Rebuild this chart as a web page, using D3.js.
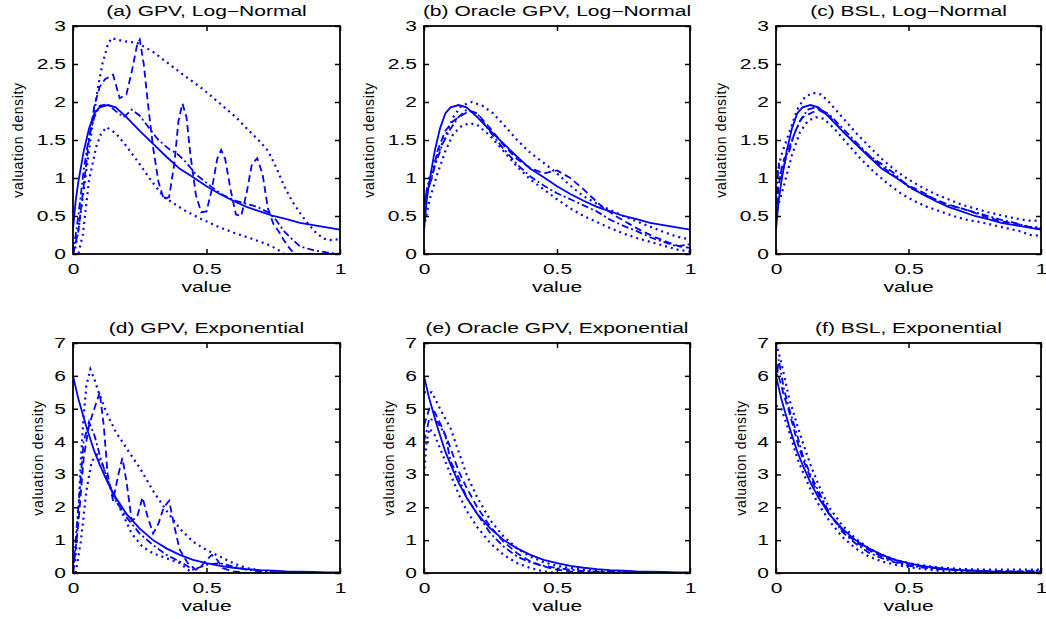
<!DOCTYPE html>
<html>
<head>
<meta charset="utf-8">
<script src="https://cdn.jsdelivr.net/npm/d3@7"></script>
<style>
body { margin: 0; background: #fff; }
text { font-family: "Liberation Sans", Arial, sans-serif; fill: #000; }
</style>
</head>
<body>
<svg width="1046" height="619"></svg>
<script>
// tick labels and titles
const xTicks = [0, 0.5, 1];
const yTicksLogn = [0, 0.5, 1, 1.5, 2, 2.5, 3];
const yTicksExp = [0, 1, 2, 3, 4, 5, 6, 7];
const titles = ["(a) GPV, Log\u2212Normal", "(b) Oracle GPV, Log\u2212Normal", "(c) BSL, Log\u2212Normal",
    "(d) GPV, Exponential", "(e) Oracle GPV, Exponential", "(f) BSL, Exponential"];

// true densities
const trueLogn = [[0,0.32],[0.01,0.7],[0.02,0.95],[0.04,1.35],[0.06,1.65],[0.08,1.85],[0.1,1.93],[0.13,1.96],[0.16,1.93],[0.2,1.8],[0.25,1.62],[0.3,1.45],[0.35,1.28],[0.4,1.12],[0.45,1.01],[0.5,0.89],[0.55,0.79],[0.6,0.7],[0.65,0.62],[0.7,0.56],[0.75,0.5],[0.8,0.46],[0.85,0.41],[0.9,0.38],[0.95,0.35],[1,0.32]];
const trueExp = [[0,6.0],[0.02,5.3],[0.05,4.45],[0.08,3.7],[0.1,3.3],[0.13,2.75],[0.16,2.3],[0.2,1.8],[0.25,1.35],[0.3,1.0],[0.35,0.75],[0.4,0.55],[0.45,0.4],[0.5,0.3],[0.55,0.22],[0.6,0.16],[0.65,0.12],[0.7,0.09],[0.75,0.07],[0.8,0.05],[0.85,0.04],[0.9,0.03],[0.95,0.02],[1,0.015]];

// (a) GPV, Log-Normal
const aDashed = [[0,0],[0.02,0.3],[0.04,0.9],[0.06,1.5],[0.08,1.95],[0.1,2.2],[0.12,2.3],[0.15,2.36],[0.175,2.05],[0.2,2.1],[0.22,2.4],[0.24,2.75],[0.25,2.82],[0.265,2.5],[0.28,2.0],[0.3,1.4],[0.32,0.95],[0.34,0.72],[0.36,0.75],[0.38,1.2],[0.395,1.75],[0.41,1.98],[0.425,1.8],[0.44,1.3],[0.46,0.78],[0.48,0.55],[0.5,0.56],[0.52,0.85],[0.54,1.25],[0.555,1.37],[0.57,1.25],[0.59,0.85],[0.61,0.52],[0.63,0.5],[0.65,0.8],[0.67,1.18],[0.69,1.26],[0.71,1.05],[0.73,0.6],[0.75,0.4],[0.77,0.3],[0.79,0.18],[0.81,0.08],[0.83,0],[1,0]];
const aDashDot = [[0,0],[0.02,0.5],[0.04,1.1],[0.06,1.55],[0.08,1.8],[0.1,1.95],[0.13,1.97],[0.16,1.88],[0.19,1.8],[0.22,1.9],[0.25,1.82],[0.28,1.68],[0.32,1.5],[0.36,1.38],[0.39,1.32],[0.42,1.22],[0.46,1.05],[0.52,0.88],[0.56,0.78],[0.61,0.7],[0.65,0.66],[0.69,0.62],[0.73,0.55],[0.76,0.45],[0.79,0.3],[0.81,0.23],[0.85,0.1],[0.9,0.05],[0.95,0.02],[1,0]];
const aUpper = [[0,0],[0.01,0.1],[0.025,0.44],[0.05,1.1],[0.075,1.76],[0.094,2.2],[0.11,2.5],[0.13,2.75],[0.144,2.84],[0.19,2.8],[0.24,2.78],[0.3,2.66],[0.36,2.5],[0.42,2.34],[0.49,2.16],[0.55,1.98],[0.61,1.8],[0.66,1.62],[0.7,1.48],[0.73,1.36],[0.76,1.15],[0.79,0.9],[0.82,0.7],[0.85,0.54],[0.88,0.4],[0.91,0.28],[0.94,0.2],[0.97,0.18],[1,0.2]];
const aLower = [[0,0],[0.02,0],[0.037,0.26],[0.06,0.97],[0.087,1.41],[0.105,1.58],[0.125,1.67],[0.16,1.59],[0.2,1.42],[0.24,1.23],[0.29,0.98],[0.34,0.75],[0.42,0.57],[0.48,0.46],[0.55,0.35],[0.61,0.27],[0.67,0.2],[0.71,0.15],[0.74,0.11],[0.77,0.05],[0.79,0],[1,0]];

// (b) Oracle GPV, Log-Normal
const bDashed = [[0,0.5],[0.01,0.85],[0.03,1.0],[0.05,1.35],[0.08,1.62],[0.11,1.75],[0.14,1.82],[0.17,1.88],[0.2,1.85],[0.25,1.65],[0.3,1.43],[0.35,1.25],[0.4,1.13],[0.45,1.06],[0.5,1.1],[0.55,1.0],[0.6,0.85],[0.63,0.75],[0.67,0.62],[0.72,0.5],[0.77,0.4],[0.82,0.3],[0.87,0.22],[0.92,0.15],[0.96,0.1],[1,0.08]];
const bDashDot = [[0,0.7],[0.02,0.9],[0.04,1.15],[0.07,1.45],[0.1,1.65],[0.13,1.8],[0.16,1.9],[0.2,1.85],[0.25,1.6],[0.3,1.38],[0.35,1.18],[0.4,1.02],[0.45,0.9],[0.5,0.8],[0.55,0.72],[0.6,0.64],[0.65,0.56],[0.7,0.45],[0.75,0.37],[0.8,0.3],[0.85,0.22],[0.9,0.16],[0.95,0.1],[1,0.13]];
const bUpper = [[0,0.6],[0.02,1.0],[0.05,1.3],[0.08,1.55],[0.11,1.8],[0.14,1.95],[0.18,2.0],[0.22,1.95],[0.26,1.85],[0.3,1.7],[0.35,1.5],[0.4,1.33],[0.45,1.2],[0.5,1.06],[0.55,0.9],[0.6,0.76],[0.65,0.66],[0.7,0.58],[0.75,0.5],[0.8,0.43],[0.85,0.36],[0.9,0.29],[0.95,0.23],[1,0.19]];
const bLower = [[0,0.35],[0.02,0.7],[0.05,1.05],[0.08,1.35],[0.11,1.58],[0.14,1.68],[0.17,1.72],[0.2,1.7],[0.25,1.55],[0.3,1.35],[0.35,1.15],[0.4,0.98],[0.45,0.85],[0.5,0.72],[0.55,0.6],[0.6,0.5],[0.65,0.42],[0.7,0.34],[0.75,0.27],[0.8,0.21],[0.85,0.16],[0.9,0.11],[0.95,0.06],[1,0.03]];

// (c) BSL, Log-Normal
const cDashed = [[0,0.5],[0.01,0.9],[0.02,1.1],[0.03,1.25],[0.05,1.35],[0.07,1.6],[0.1,1.8],[0.13,1.85],[0.16,1.9],[0.2,1.82],[0.25,1.62],[0.3,1.45],[0.35,1.3],[0.4,1.15],[0.45,1.02],[0.5,0.9],[0.55,0.82],[0.6,0.72],[0.65,0.65],[0.7,0.6],[0.75,0.54],[0.8,0.48],[0.85,0.43],[0.9,0.4],[0.93,0.38],[0.96,0.35],[1,0.33]];
const cDashDot = [[0,0.6],[0.01,1.2],[0.02,1.0],[0.04,1.3],[0.06,1.5],[0.09,1.75],[0.12,1.9],[0.15,1.93],[0.2,1.84],[0.25,1.66],[0.3,1.48],[0.35,1.3],[0.4,1.18],[0.45,1.05],[0.5,0.88],[0.55,0.8],[0.6,0.72],[0.65,0.64],[0.7,0.6],[0.75,0.55],[0.8,0.5],[0.85,0.45],[0.9,0.41],[0.95,0.36],[1,0.35]];
const cUpper = [[0,1.0],[0.02,1.3],[0.05,1.6],[0.08,1.9],[0.11,2.07],[0.14,2.12],[0.17,2.1],[0.2,2.0],[0.25,1.8],[0.3,1.6],[0.35,1.42],[0.4,1.25],[0.45,1.1],[0.5,0.98],[0.55,0.88],[0.6,0.79],[0.65,0.72],[0.7,0.65],[0.75,0.6],[0.8,0.55],[0.85,0.51],[0.9,0.47],[0.95,0.44],[1,0.44]];
const cLower = [[0.005,0.6],[0.03,0.9],[0.06,1.3],[0.09,1.6],[0.12,1.75],[0.15,1.8],[0.18,1.78],[0.22,1.65],[0.27,1.45],[0.32,1.25],[0.37,1.08],[0.42,0.93],[0.47,0.8],[0.52,0.7],[0.57,0.62],[0.62,0.56],[0.67,0.5],[0.72,0.45],[0.77,0.42],[0.82,0.38],[0.87,0.34],[0.92,0.3],[0.96,0.25],[1,0.24]];

// (d) GPV, Exponential
const dDashed = [[0,0],[0.02,1.5],[0.04,3.5],[0.06,4.5],[0.08,5.0],[0.1,5.5],[0.115,4.5],[0.13,3.0],[0.15,2.2],[0.17,3.0],[0.185,3.5],[0.2,2.8],[0.22,1.6],[0.24,1.7],[0.26,2.3],[0.28,1.7],[0.3,1.2],[0.32,1.5],[0.34,2.0],[0.36,2.2],[0.38,1.4],[0.4,0.7],[0.43,0.3],[0.46,0.1],[0.48,0.2],[0.5,0.4],[0.52,0.55],[0.54,0.4],[0.56,0.15],[0.6,0.05],[0.65,0],[0.9,0]];
const dDashDot = [[0,0],[0.02,2.0],[0.04,4.0],[0.06,4.6],[0.08,4.2],[0.1,3.6],[0.13,2.8],[0.16,2.2],[0.2,1.7],[0.25,1.2],[0.3,0.85],[0.35,0.55],[0.4,0.35],[0.45,0.1],[0.5,0.25],[0.55,0.3],[0.6,0.2],[0.65,0.1],[0.7,0.05],[0.8,0],[0.9,0]];
const dUpper = [[0,0],[0.01,0.5],[0.02,1.8],[0.03,3.5],[0.04,4.8],[0.05,5.7],[0.065,6.2],[0.08,5.9],[0.1,5.4],[0.13,4.8],[0.16,4.3],[0.2,3.8],[0.25,3.2],[0.3,2.5],[0.35,1.9],[0.4,1.35],[0.45,0.95],[0.5,0.7],[0.55,0.5],[0.6,0.3],[0.65,0.15],[0.7,0.07],[0.75,0.02],[0.8,0],[0.9,0]];
const dLower = [[0.01,0],[0.03,1.0],[0.05,2.5],[0.07,3.4],[0.09,3.6],[0.11,3.3],[0.14,2.6],[0.18,1.9],[0.22,1.2],[0.26,0.8],[0.3,0.6],[0.35,0.45],[0.4,0.3],[0.43,0.1],[0.45,0],[0.9,0]];

// (e) Oracle GPV, Exponential
const eDashed = [[0,4.5],[0.02,5.0],[0.04,4.9],[0.07,4.4],[0.1,3.8],[0.13,3.1],[0.16,2.6],[0.2,2.0],[0.25,1.4],[0.3,0.95],[0.35,0.6],[0.4,0.35],[0.45,0.2],[0.5,0.1],[0.55,0.05],[0.6,0.02],[0.9,0]];
const eDashDot = [[0,4.0],[0.02,4.7],[0.05,4.6],[0.08,4.2],[0.1,3.4],[0.13,2.9],[0.16,2.3],[0.2,1.8],[0.25,1.2],[0.3,0.8],[0.35,0.5],[0.4,0.32],[0.45,0.22],[0.5,0.15],[0.55,0.1],[0.6,0.06],[0.7,0.03],[0.9,0]];
const eUpper = [[0,5.5],[0.03,5.5],[0.06,5.0],[0.1,4.4],[0.13,3.7],[0.16,3.0],[0.2,2.3],[0.25,1.6],[0.3,1.1],[0.35,0.75],[0.4,0.5],[0.45,0.33],[0.5,0.22],[0.55,0.15],[0.6,0.1],[0.7,0.05],[0.8,0.02],[0.9,0]];
const eLower = [[0,3.0],[0.01,4.0],[0.02,4.4],[0.04,4.2],[0.07,3.6],[0.1,3.0],[0.13,2.4],[0.16,1.9],[0.2,1.4],[0.25,0.9],[0.3,0.55],[0.35,0.3],[0.4,0.15],[0.45,0.05],[0.5,0],[0.9,0]];

// (f) BSL, Exponential
const fDashed = [[0,6.3],[0.01,6.0],[0.03,5.4],[0.05,4.9],[0.08,4.0],[0.1,3.5],[0.13,2.9],[0.16,2.4],[0.2,1.8],[0.25,1.3],[0.3,0.95],[0.35,0.7],[0.4,0.5],[0.45,0.35],[0.5,0.25],[0.6,0.15],[0.7,0.08],[0.8,0.06],[0.9,0.05],[1,0.05]];
const fDashDot = [[0,5.7],[0.01,6.5],[0.03,5.6],[0.05,5.0],[0.08,4.2],[0.1,3.6],[0.13,3.0],[0.16,2.5],[0.2,1.85],[0.25,1.25],[0.3,0.9],[0.35,0.62],[0.4,0.45],[0.45,0.32],[0.5,0.22],[0.6,0.12],[0.7,0.08],[0.8,0.05],[0.9,0.04],[1,0.08]];
const fUpper = [[0,7.0],[0.02,6.4],[0.05,5.3],[0.08,4.5],[0.1,4.0],[0.13,3.3],[0.16,2.7],[0.2,2.0],[0.25,1.45],[0.3,1.05],[0.35,0.75],[0.4,0.55],[0.45,0.4],[0.5,0.3],[0.6,0.18],[0.7,0.12],[0.8,0.1],[0.9,0.1],[1,0.1]];
const fLower = [[0,5.1],[0.02,5.0],[0.05,4.3],[0.08,3.5],[0.1,3.1],[0.13,2.55],[0.16,2.1],[0.2,1.6],[0.25,1.1],[0.3,0.75],[0.35,0.5],[0.4,0.35],[0.45,0.25],[0.5,0.18],[0.6,0.08],[0.7,0.03],[0.75,0],[1,0]];

const blue = "#0000ff";
const lineStyles = {
    solid: null,
    dashed: "7,4",
    dashdot: "7,3,2,3",
    dotted: "2,4"
};

// panel frames
const cols = [[73, 340], [424, 690], [776, 1041]];
const rows = [
    {top: 26, bottom: 254, ymax: 3, ticks: yTicksLogn, labOff: 50},
    {top: 343, bottom: 573, ymax: 7, ticks: yTicksExp, labOff: 30}
];

const panels = [
    {r: 0, c: 0, curves: [[aUpper, "dotted"], [aLower, "dotted"], [aDashed, "dashed"], [aDashDot, "dashdot"], [trueLogn, "solid"]]},
    {r: 0, c: 1, curves: [[bUpper, "dotted"], [bLower, "dotted"], [bDashed, "dashed"], [bDashDot, "dashdot"], [trueLogn, "solid"]]},
    {r: 0, c: 2, curves: [[cUpper, "dotted"], [cLower, "dotted"], [cDashed, "dashed"], [cDashDot, "dashdot"], [trueLogn, "solid"]]},
    {r: 1, c: 0, curves: [[dUpper, "dotted"], [dLower, "dotted"], [dDashed, "dashed"], [dDashDot, "dashdot"], [trueExp, "solid"]]},
    {r: 1, c: 1, curves: [[eUpper, "dotted"], [eLower, "dotted"], [eDashed, "dashed"], [eDashDot, "dashdot"], [trueExp, "solid"]]},
    {r: 1, c: 2, curves: [[fUpper, "dotted"], [fLower, "dotted"], [fDashed, "dashed"], [fDashDot, "dashdot"], [trueExp, "solid"]]}
];

const svg = d3.select("svg");
const stretchK = 1.5;

// the original text is rendered wide, so stretch it sideways
function stretch(sel) {
    sel.each(function() {
        const w = this.getComputedTextLength();
        d3.select(this).attr("textLength", w * stretchK).attr("lengthAdjust", "spacingAndGlyphs");
    });
}

panels.forEach((p, i) => {
    const row = rows[p.r];
    const [left, right] = cols[p.c];
    const w = right - left, h = row.bottom - row.top;

    const g = svg.append("g").attr("transform", `translate(${left},${row.top})`);

    const x = d3.scaleLinear().domain([0, 1]).range([0, w]);
    const y = d3.scaleLinear().domain([0, row.ymax]).range([h, 0]);

    g.append("clipPath").attr("id", "clip" + i)
        .append("rect").attr("width", w).attr("height", h);

    const line = d3.line().x(d => x(d[0])).y(d => y(d[1]));

    g.append("g").attr("clip-path", `url(#clip${i})`)
        .selectAll("path")
        .data(p.curves)
        .join("path")
        .attr("d", d => line(d[0]))
        .attr("fill", "none")
        .attr("stroke", blue)
        .attr("stroke-width", d => d[1] === "dotted" ? 2.2 : 1.8)
        .attr("stroke-dasharray", d => lineStyles[d[1]]);

    // axes, inward ticks like matlab
    const xAxis = g.append("g").attr("transform", `translate(0,${h})`)
        .call(d3.axisBottom(x).tickValues(xTicks).tickSizeInner(-5).tickSizeOuter(0).tickPadding(10).tickFormat(d3.format("")));
    const yAxis = g.append("g")
        .call(d3.axisLeft(y).tickValues(row.ticks).tickSizeInner(-5).tickSizeOuter(0).tickPadding(7).tickFormat(d3.format("")));
    g.append("g")
        .call(d3.axisTop(x).tickValues(xTicks).tickSizeInner(-5).tickSizeOuter(0).tickFormat(""));
    g.append("g").attr("transform", `translate(${w},0)`)
        .call(d3.axisRight(y).tickValues(row.ticks).tickSizeInner(-5).tickSizeOuter(0).tickFormat(""));

    g.selectAll(".domain").remove();
    g.selectAll(".tick line").attr("stroke", "#000").attr("stroke-width", 1.5);
    g.selectAll(".tick text").attr("font-size", 14).attr("fill", "#000")
        .attr("font-family", "'Liberation Sans', Arial, sans-serif");
    stretch(xAxis.selectAll(".tick text"));
    stretch(yAxis.selectAll(".tick text"));

    g.append("rect")
        .attr("width", w).attr("height", h)
        .attr("fill", "none").attr("stroke", "#000").attr("stroke-width", 1.8);

    // title and axis labels
    g.append("text")
        .attr("x", w / 2).attr("y", -10.5)
        .attr("text-anchor", "middle").attr("font-size", 14)
        .text(titles[i])
        .call(stretch);

    g.append("text")
        .attr("x", w / 2).attr("y", h + 38)
        .attr("text-anchor", "middle").attr("font-size", 14)
        .text("value")
        .call(stretch);

    g.append("text")
        .attr("transform", `translate(${-row.labOff},${h / 2}) rotate(-90)`)
        .attr("text-anchor", "middle").attr("font-size", 14)
        .attr("letter-spacing", 0.65)
        .text("valuation density");
});
</script>
</body>
</html>
